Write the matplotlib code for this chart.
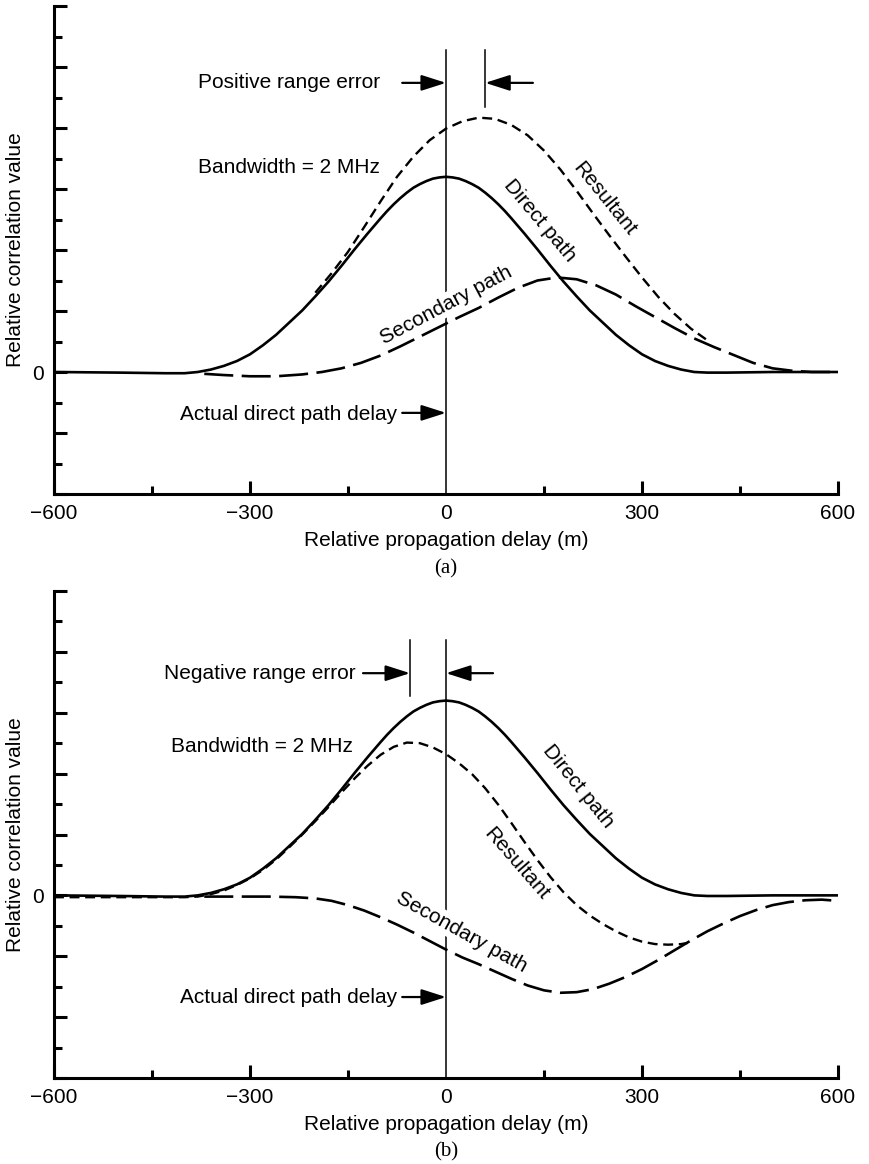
import numpy as np
import matplotlib
matplotlib.use("Agg")
import matplotlib.pyplot as plt
from matplotlib.ticker import MultipleLocator

plt.rcParams['font.family'] = ['Liberation Sans', 'DejaVu Sans']
plt.rcParams['font.size'] = 15

# ---- data: relative correlation value versus relative propagation delay (m) ----
# direct-path correlation (same 2 MHz correlation shape in both panels)
direct_x = [-600, -500, -430, -400, -380, -360, -340, -320, -300, -280, -260, -240,
            -220, -200, -180, -160, -140, -120, -100, -90, -80, -70, -60, -50, -40,
            -30, -20, -10, 0, 10, 20, 30, 40, 50, 60, 70, 80, 90, 100, 120, 140,
            160, 180, 200, 220, 240, 260, 280, 300, 320, 340, 360, 380, 400, 430,
            500, 600]
direct_y = [0.0, -0.01, -0.02, -0.02, 0.0, 0.04, 0.1, 0.18, 0.29, 0.44, 0.61, 0.81,
            1.01, 1.24, 1.48, 1.74, 2.01, 2.27, 2.52, 2.64, 2.75, 2.85, 2.94, 3.02,
            3.08, 3.13, 3.17, 3.19, 3.2, 3.19, 3.17, 3.13, 3.08, 3.02, 2.94, 2.85,
            2.75, 2.64, 2.52, 2.27, 2.01, 1.74, 1.48, 1.24, 1.01, 0.81, 0.61, 0.44,
            0.29, 0.18, 0.1, 0.04, 0.0, -0.01, -0.01, 0.0, 0.0]

# panel (a): in-phase secondary path -> positive range error
sec_a_x = [-370, -340, -300, -260, -220, -190, -160, -130, -100, -70, -40, -10, 20,
           50, 80, 110, 140, 170, 200, 230, 260, 290, 320, 350, 380, 410, 440, 470,
           500, 530, 560, 600]
sec_a_y = [-0.03, -0.05, -0.07, -0.07, -0.04, 0.0, 0.06, 0.15, 0.27, 0.42, 0.58,
           0.74, 0.9, 1.05, 1.22, 1.38, 1.5, 1.55, 1.52, 1.42, 1.27, 1.08, 0.9,
           0.72, 0.55, 0.41, 0.28, 0.15, 0.06, 0.02, 0.0, 0.0]
res_a_x = [-200, -175, -150, -125, -100, -75, -50, -25, 0, 25, 50, 75, 100, 125,
           150, 175, 200, 225, 250, 275, 300, 325, 350, 375, 400]
res_a_y = [1.3, 1.62, 1.97, 2.38, 2.8, 3.2, 3.53, 3.8, 3.99, 4.11, 4.17, 4.15,
           4.05, 3.88, 3.63, 3.32, 2.97, 2.6, 2.24, 1.89, 1.55, 1.23, 0.95, 0.71,
           0.52]
peak_a = 60

# panel (b): out-of-phase secondary path -> negative range error
sec_b_x = [-370, -320, -270, -230, -200, -175, -150, -125, -100, -75, -50, -25, 0,
           25, 50, 75, 100, 125, 150, 175, 200, 225, 250, 275, 300, 325, 350, 375,
           400, 425, 450, 475, 500, 525, 550, 575, 600]
sec_b_y = [-0.02, -0.02, -0.02, -0.03, -0.05, -0.09, -0.16, -0.25, -0.36, -0.48,
           -0.61, -0.75, -0.89, -1.02, -1.13, -1.25, -1.37, -1.48, -1.56, -1.6,
           -1.59, -1.54, -1.45, -1.34, -1.21, -1.06, -0.9, -0.74, -0.59, -0.46,
           -0.34, -0.24, -0.16, -0.11, -0.08, -0.07, -0.09]
res_b_x = [-600, -500, -400, -380, -360, -340, -320, -300, -280, -260, -240, -220,
           -200, -180, -160, -140, -120, -100, -80, -60, -40, -20, 0, 20, 40, 60,
           80, 100, 120, 140, 160, 180, 200, 220, 240, 260, 280, 300, 320, 340,
           360, 370]
res_b_y = [-0.03, -0.03, -0.03, -0.02, 0.02, 0.08, 0.17, 0.28, 0.42, 0.59, 0.79,
           1.0, 1.22, 1.45, 1.69, 1.92, 2.13, 2.31, 2.44, 2.51, 2.5, 2.43, 2.32,
           2.17, 1.99, 1.76, 1.49, 1.19, 0.88, 0.58, 0.3, 0.05, -0.16, -0.33, -0.47,
           -0.59, -0.69, -0.76, -0.8, -0.81, -0.8, -0.78]
peak_b = -55

x_ticks = [-600, -300, 0, 300, 600]
x_ticklabels = ['\u2212600', '\u2212300', '0', '300', '600']

W, H = 870, 1164
fig = plt.figure(figsize=(W / 100, H / 100), dpi=100)


def axes_px(left, top, right, bottom):
    return fig.add_axes([left / W, 1 - bottom / H, (right - left) / W, (bottom - top) / H])


ax_a = axes_px(54, 6, 838, 494)
ax_b = axes_px(54, 591, 838, 1078)

solid_kw = dict(color='black', lw=1.9, zorder=3)
long_kw = dict(color='black', lw=1.9, dashes=(11, 3.2), zorder=3)
short_kw = dict(color='black', lw=1.7, dashes=(4.2, 2.4), zorder=3)
ref_kw = dict(color='black', lw=1.1, zorder=2)
arrow_kw = dict(arrowstyle='-|>,head_length=1.0,head_width=0.32', color='black',
                lw=1.6, shrinkA=0, shrinkB=0)
white_box = dict(facecolor='white', edgecolor='none', pad=1.5)


def style_axes(ax, ylim):
    ax.set_xlim(-600, 600)
    ax.set_ylim(*ylim)
    for s in ('top', 'right'):
        ax.spines[s].set_visible(False)
    for s in ('left', 'bottom'):
        ax.spines[s].set_linewidth(2.2)
    ax.set_xticks(x_ticks)
    ax.set_xticklabels(x_ticklabels)
    ax.xaxis.set_minor_locator(MultipleLocator(150))
    yt = np.arange(ylim[0], ylim[1] + 1)
    ax.set_yticks(yt)
    ax.set_yticklabels(['0' if v == 0 else '' for v in yt])
    ax.yaxis.set_minor_locator(MultipleLocator(0.5))
    ax.tick_params(which='major', direction='in', length=9.5, width=2.2, pad=7)
    ax.tick_params(which='minor', direction='in', length=5.8, width=2.2)
    ax.xaxis.get_major_ticks()[2].tick1line.set_visible(False)
    ax.set_xlabel('Relative propagation delay (m)', labelpad=6)
    ax.set_ylabel('Relative correlation value', va='center')
    ax.yaxis.set_label_coords(-38 / 784, 0.5)


# ---------------- panel (a) ----------------
style_axes(ax_a, (-2, 6))
ax_a.plot(direct_x, direct_y, **solid_kw)
ax_a.plot(sec_a_x, sec_a_y, **long_kw)
ax_a.plot(res_a_x, res_a_y, **short_kw)
ax_a.plot([0, 0], [-2, 5.28], **ref_kw)
ax_a.plot([peak_a, peak_a], [4.34, 5.28], **ref_kw)

ax_a.text(-101, 4.74, 'Positive range error', ha='right', va='center')
ax_a.annotate('', xy=(0, 4.74), xytext=(-67, 4.74), arrowprops=arrow_kw)
ax_a.annotate('', xy=(peak_a, 4.74), xytext=(133, 4.74), arrowprops=arrow_kw)
ax_a.text(-101, 3.36, 'Bandwidth = 2 MHz', ha='right', va='center')
ax_a.text(-75, -0.70, 'Actual direct path delay', ha='right', va='center')
ax_a.annotate('', xy=(0, -0.67), xytext=(-67, -0.67), arrowprops=arrow_kw)
ax_a.text(143, 2.48, 'Direct path', rotation=-50, rotation_mode='anchor',
          ha='center', va='center')
ax_a.text(242, 2.84, 'Resultant', rotation=-51, rotation_mode='anchor',
          ha='center', va='center')
ax_a.text(0, 1.1, 'Secondary path', rotation=28, rotation_mode='anchor',
          ha='center', va='center', bbox=white_box, zorder=4)

# ---------------- panel (b) ----------------
style_axes(ax_b, (-3, 5))
ax_b.plot(direct_x, direct_y, **solid_kw)
ax_b.plot(sec_b_x, sec_b_y, **long_kw)
ax_b.plot(res_b_x, res_b_y, **short_kw)
ax_b.plot([0, 0], [-3, 4.2], **ref_kw)
ax_b.plot([peak_b, peak_b], [3.28, 4.2], **ref_kw)

ax_b.text(-139, 3.65, 'Negative range error', ha='right', va='center')
ax_b.annotate('', xy=(peak_b, 3.65), xytext=(-127, 3.65), arrowprops=arrow_kw)
ax_b.annotate('', xy=(0, 3.65), xytext=(72, 3.65), arrowprops=arrow_kw)
ax_b.text(-142, 2.44, 'Bandwidth = 2 MHz', ha='right', va='center')
ax_b.text(-75, -1.67, 'Actual direct path delay', ha='right', va='center')
ax_b.annotate('', xy=(0, -1.67), xytext=(-67, -1.67), arrowprops=arrow_kw)
ax_b.text(202, 1.8, 'Direct path', rotation=-51, rotation_mode='anchor',
          ha='center', va='center')
ax_b.text(108, 0.51, 'Resultant', rotation=-49, rotation_mode='anchor',
          ha='center', va='center')
ax_b.text(24, -0.6, 'Secondary path', rotation=-29, rotation_mode='anchor',
          ha='center', va='center', bbox=white_box, zorder=4)

# panel captions
fig.text(446 / W, 1 - 569 / H, '(a)', ha='center', va='center',
         family=['Liberation Serif', 'DejaVu Serif'], fontsize=15)
fig.text(446 / W, 1 - 1152 / H, '(b)', ha='center', va='center',
         family=['Liberation Serif', 'DejaVu Serif'], fontsize=15)

fig.savefig('out.png', dpi=100)
